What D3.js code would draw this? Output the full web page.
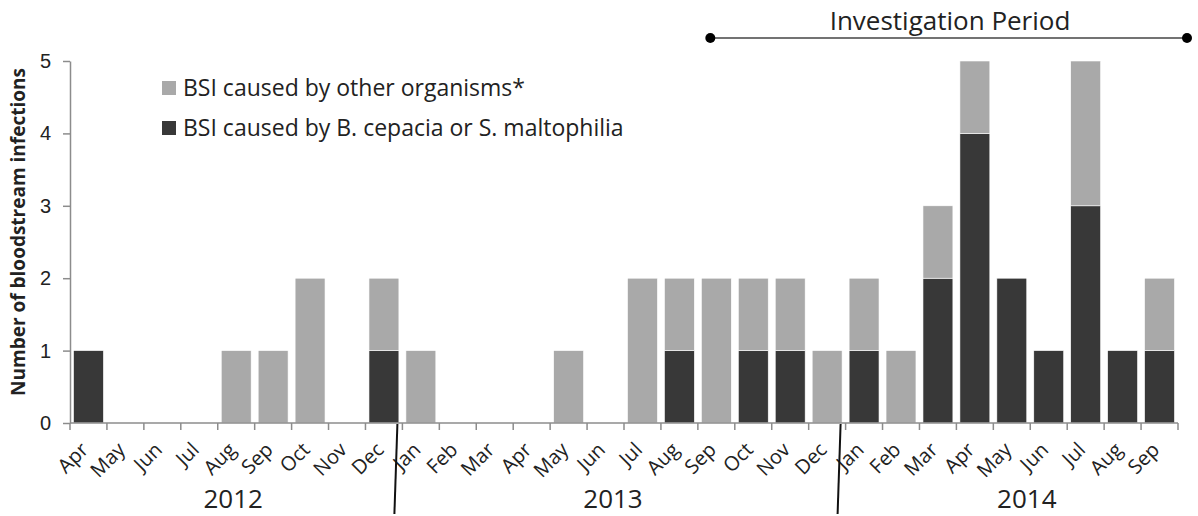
<!DOCTYPE html>
<html>
<head>
<meta charset="utf-8">
<script src="https://cdn.jsdelivr.net/npm/d3@7"></script>
<style>
  body { margin: 0; background: #fff; }
  svg { display: block; font-family: "Open Sans", sans-serif; }
</style>
</head>
<body>
<div id="chart"></div>
<script>
const months = ["Apr","May","Jun","Jul","Aug","Sep","Oct","Nov","Dec",
  "Jan","Feb","Mar","Apr","May","Jun","Jul","Aug","Sep","Oct","Nov","Dec",
  "Jan","Feb","Mar","Apr","May","Jun","Jul","Aug","Sep"];
const years = [
  { label: "2012", first: 0, last: 8 },
  { label: "2013", first: 9, last: 20 },
  { label: "2014", first: 21, last: 29 }
];
const cepacia = [1,0,0,0,0,0,0,0,1, 0,0,0,0,0,0,0,1,0,1,1,0, 1,0,2,4,2,1,3,1,1];
const other   = [0,0,0,0,1,1,2,0,1, 1,0,0,0,1,0,2,1,2,1,1,1, 1,1,1,1,0,0,2,0,1];
const yTicks = [0,1,2,3,4,5];
const seriesNames = ["BSI caused by other organisms*", "BSI caused by B. cepacia or S. maltophilia"];
const investigation = { from: 17, to: 29 };

const width = 1198, height = 516;
const margin = { top: 61, right: 20, bottom: 93, left: 70 };
const innerW = 1178 - margin.left;
const innerH = height - margin.top - margin.bottom;

const colors = { other: "#a9a9a9", cepacia: "#383838" };

const data = months.map((m, i) => ({ i, month: m, cepacia: cepacia[i], other: other[i] }));
const stack = d3.stack().keys(["cepacia", "other"])(data);

const svg = d3.select("#chart").append("svg")
  .attr("width", width)
  .attr("height", height);

const x = d3.scaleBand()
  .domain(d3.range(months.length))
  .range([margin.left, margin.left + innerW])
  .paddingInner(0.19)
  .paddingOuter(0.095);

const y = d3.scaleLinear()
  .domain([0, 5])
  .range([margin.top + innerH, margin.top]);

// bars
svg.append("g")
  .selectAll("g")
  .data(stack)
  .join("g")
  .attr("fill", d => colors[d.key])
  .selectAll("rect")
  .data(d => d.filter(s => s[1] > s[0]))
  .join("rect")
  .attr("x", d => x(d.data.i))
  .attr("y", d => y(d[1]))
  .attr("width", x.bandwidth())
  .attr("height", d => y(d[0]) - y(d[1]))
  .attr("stroke", "#fff")
  .attr("stroke-width", 0.6);

// y axis
const yAxis = svg.append("g")
  .attr("transform", `translate(${margin.left},0)`)
  .call(d3.axisLeft(y).tickValues(yTicks).tickFormat(d3.format("d"))
    .tickSize(7).tickPadding(12).tickSizeOuter(0));
yAxis.select(".domain").attr("stroke", "#8c8c8c").attr("stroke-width", 1.5);
yAxis.selectAll(".tick line").attr("stroke", "#8c8c8c").attr("stroke-width", 1.5);
yAxis.selectAll(".tick text")
  .attr("fill", "#222")
  .style("font-size", "20px");

svg.append("text")
  .attr("transform", `translate(25,232) rotate(-90)`)
  .attr("text-anchor", "middle")
  .attr("fill", "#222")
  .style("font-size", "19px")
  .style("font-weight", "bold")
  .text("Number of bloodstream infections");

// x axis: ticks at category boundaries
const x0 = margin.left;
const boundaries = d3.range(months.length + 1).map(k => x0 + k * innerW / months.length);
const xg = svg.append("g");
xg.append("line")
  .attr("x1", x0).attr("x2", x0 + innerW)
  .attr("y1", y(0)).attr("y2", y(0))
  .attr("stroke", "#8c8c8c").attr("stroke-width", 1.5);
xg.selectAll("line.tk")
  .data(boundaries)
  .join("line")
  .attr("class", "tk")
  .attr("x1", d => d).attr("x2", d => d)
  .attr("y1", y(0)).attr("y2", y(0) + 7)
  .attr("stroke", "#8c8c8c").attr("stroke-width", 1.5);

xg.selectAll("text.m")
  .data(months)
  .join("text")
  .attr("class", "m")
  .attr("text-anchor", "end")
  .attr("transform", (d, i) => `translate(${x(i) + x.bandwidth() / 2 + 1},${y(0) + 28}) rotate(-45)`)
  .attr("fill", "#222")
  .style("font-size", "20px")
  .text(d => d);

// year labels and separators
const yearShift = { "2012": -3, "2013": -11, "2014": 15 };
svg.selectAll("text.yr")
  .data(years)
  .join("text")
  .attr("class", "yr")
  .attr("text-anchor", "middle")
  .attr("x", d => (boundaries[d.first] + boundaries[d.last + 1]) / 2 + yearShift[d.label])
  .attr("y", 508)
  .attr("fill", "#222")
  .style("font-size", "26px")
  .text(d => d.label);

svg.selectAll("line.sep")
  .data(years.slice(1))
  .join("line")
  .attr("class", "sep")
  .attr("x1", d => boundaries[d.first] - 5)
  .attr("x2", d => boundaries[d.first] - 8)
  .attr("y1", y(0) + 1)
  .attr("y2", 514)
  .attr("stroke", "#111")
  .attr("stroke-width", 2);

// investigation period
const ipY = 38;
const ipX1 = x(investigation.from) + x.bandwidth() / 2 - 6;
const ipX2 = 1187;
const ip = svg.append("g");
ip.append("line")
  .attr("x1", ipX1).attr("x2", ipX2)
  .attr("y1", ipY).attr("y2", ipY)
  .attr("stroke", "#444").attr("stroke-width", 1.5);
ip.selectAll("circle")
  .data([ipX1, ipX2])
  .join("circle")
  .attr("cx", d => d).attr("cy", ipY).attr("r", 5)
  .attr("fill", "#000");
ip.append("text")
  .attr("x", 950)
  .attr("y", 30)
  .attr("text-anchor", "middle")
  .attr("fill", "#222")
  .style("font-size", "26px")
  .text("Investigation Period");

// legend
const legend = svg.append("g").attr("transform", "translate(162,0)");
const legendRows = [
  { name: seriesNames[0], color: colors.other, y: 88 },
  { name: seriesNames[1], color: colors.cepacia, y: 128 }
];
const lg = legend.selectAll("g")
  .data(legendRows)
  .join("g")
  .attr("transform", d => `translate(0,${d.y})`);
lg.append("rect")
  .attr("x", 0).attr("y", -7)
  .attr("width", 14).attr("height", 14)
  .attr("fill", d => d.color);
lg.append("text")
  .attr("x", 21)
  .attr("dy", "0.35em")
  .attr("fill", "#222")
  .style("font-size", "23px")
  .text(d => d.name);
</script>
</body>
</html>
